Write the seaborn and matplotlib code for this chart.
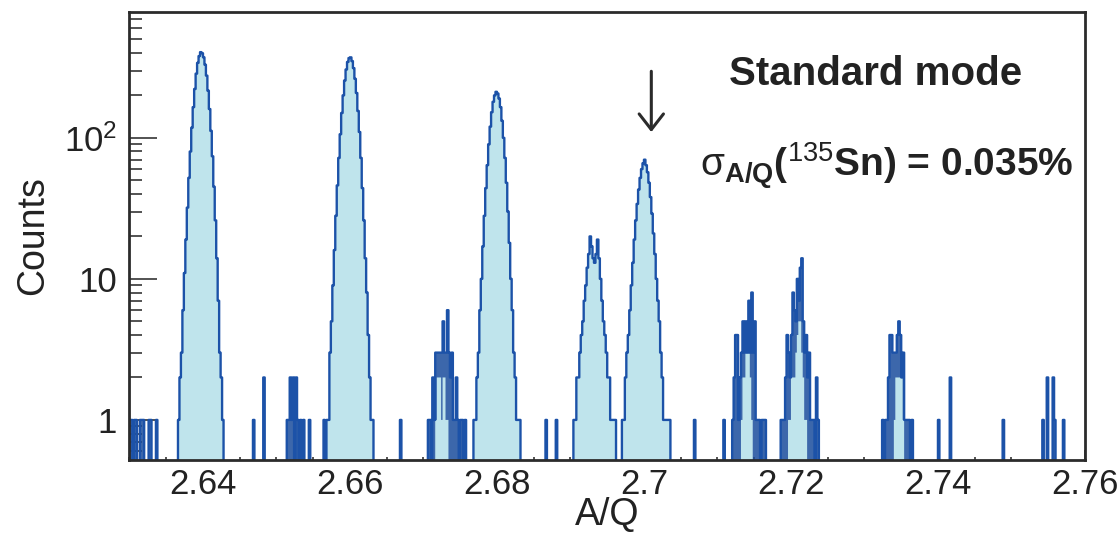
import numpy as np
import pandas as pd
import seaborn as sns
import matplotlib.pyplot as plt
from matplotlib.ticker import FixedLocator, FixedFormatter, NullFormatter

# Histogram binning (A/Q), bin width 0.0002
aq_min, aq_max, bin_w = 2.63, 2.76, 0.0002

# Main peaks: first bin lower edge + counts per bin
peak_264_start = 2.6366
peak_264_counts = [1, 2, 3, 6, 11, 19, 32, 52, 80, 118, 165, 222, 285, 340, 380, 405,
                   398, 372, 330, 276, 216, 160, 112, 74, 45, 26, 14, 7, 3, 2, 1]
peak_266_start = 2.6568
peak_266_counts = [1, 1, 3, 5, 9, 16, 28, 46, 72, 106, 150, 200, 255, 305, 345, 368,
                   372, 350, 312, 262, 208, 155, 110, 72, 44, 26, 14, 8, 4, 2, 1, 1]
peak_268_start = 2.6768
peak_268_counts = [1, 1, 2, 3, 6, 10, 17, 28, 44, 64, 90, 120, 152, 180, 200, 212,
                   206, 190, 165, 132, 100, 72, 48, 30, 18, 10, 6, 3, 2, 1, 1, 1]
peak_2693_start = 2.6904
peak_2693_counts = [1, 1, 2, 2, 3, 4, 5, 7, 9, 12, 15, 20, 17, 14, 13, 15, 19, 14, 10,
                    7, 5, 4, 3, 2, 2, 1, 1, 1, 1]
peak_270_start = 2.6970
peak_270_counts = [1, 1, 2, 3, 4, 6, 9, 13, 19, 26, 34, 43, 52, 60, 66, 70, 64, 57, 48,
                   38, 29, 21, 15, 10, 7, 5, 3, 2, 1, 1, 1, 1, 1]

# Weak clusters (outline counts)
cluster_2673_start = 2.6706
cluster_2673_counts = [1, 1, 0, 2, 1, 3, 3, 3, 3, 3, 5, 3, 3, 6, 3, 2, 3, 1, 1, 2, 1, 0, 1, 1, 0, 1]
cluster_2714_start = 2.7120
cluster_2714_counts = [1, 2, 4, 4, 1, 2, 3, 5, 3, 5, 3, 7, 3, 8, 3, 5, 1, 1, 1, 0, 1, 1, 1]
cluster_2721_start = 2.7186
cluster_2721_counts = [1, 1, 1, 2, 4, 3, 2, 4, 8, 6, 5, 10, 7, 12, 14, 5, 3, 4, 2, 3, 1, 1, 1, 0, 2, 1]
cluster_2735_start = 2.7324
cluster_2735_counts = [1, 0, 1, 1, 2, 4, 4, 3, 3, 3, 4, 5, 4, 2, 3, 1, 1, 1, 1, 0, 1]

# Filled part of the weak clusters
fill_2673_start = 2.6716
fill_2673_counts = [1, 2, 2, 2, 1, 2, 2, 1, 1]
fill_2714_start = 2.7132
fill_2714_counts = [1, 2, 2, 3, 3, 3, 2, 1]
fill_2721_start = 2.7196
fill_2721_counts = [1, 1, 2, 2, 2, 3, 4, 5, 5, 3, 2, 1, 1]
fill_2735_start = 2.7340
fill_2735_counts = [1, 2, 2, 2, 2, 2, 1]

# Isolated single bins
spike_pos = [2.6300, 2.6302, 2.6306, 2.6308, 2.6314, 2.6316, 2.6318, 2.6326, 2.6328, 2.6336,
             2.6468, 2.6482, 2.6514, 2.6516, 2.6518, 2.6520, 2.6522, 2.6526, 2.6528, 2.6532,
             2.6536, 2.6544, 2.6564, 2.6668, 2.6866, 2.6880, 2.7068, 2.7108, 2.7400, 2.7416,
             2.7488, 2.7542, 2.7548, 2.7556, 2.7558, 2.7570]
spike_counts = [1, 1, 1, 1, 1, 1, 1, 1, 1, 1,
                1, 2, 1, 1, 2, 1, 2, 2, 1, 1,
                1, 1, 1, 1, 1, 1, 1, 1, 1, 2,
                1, 1, 2, 2, 1, 1]

ytick_vals = [1, 10, 100]
ytick_labels = ["1", "10", r"$10^{2}$"]
xtick_vals = [2.64, 2.66, 2.68, 2.70, 2.72, 2.74, 2.76]
xtick_labels = ["2.64", "2.66", "2.68", "2.7", "2.72", "2.74", "2.76"]

n_bins = int(round((aq_max - aq_min) / bin_w))
edges = np.linspace(aq_min, aq_max, n_bins + 1)
centers = 0.5 * (edges[:-1] + edges[1:])


def place(arr, start, counts):
    i0 = int(round((start - aq_min) / bin_w))
    for k, c in enumerate(counts):
        arr[i0 + k] = max(arr[i0 + k], c)


fill_counts = np.zeros(n_bins)
for s, c in [(peak_264_start, peak_264_counts), (peak_266_start, peak_266_counts),
             (peak_268_start, peak_268_counts), (peak_2693_start, peak_2693_counts),
             (peak_270_start, peak_270_counts), (fill_2673_start, fill_2673_counts),
             (fill_2714_start, fill_2714_counts), (fill_2721_start, fill_2721_counts),
             (fill_2735_start, fill_2735_counts)]:
    place(fill_counts, s, c)

line_counts = fill_counts.copy()
for s, c in [(cluster_2673_start, cluster_2673_counts), (cluster_2714_start, cluster_2714_counts),
             (cluster_2721_start, cluster_2721_counts), (cluster_2735_start, cluster_2735_counts)]:
    place(line_counts, s, c)
for p, c in zip(spike_pos, spike_counts):
    place(line_counts, p, [c])

df = pd.DataFrame({"AQ": centers, "w_fill": fill_counts, "w_line": line_counts})
bin_list = list(edges)

sns.set_style("ticks")
plt.rcParams["font.family"] = ["Liberation Sans", "DejaVu Sans"]
plt.rcParams["mathtext.fontset"] = "custom"
plt.rcParams["mathtext.rm"] = "Liberation Sans"
plt.rcParams["mathtext.bf"] = "Liberation Sans:bold"
plt.rcParams["mathtext.it"] = "Liberation Sans:italic"

fig = plt.figure(figsize=(11.2, 5.33), dpi=100)
ax = fig.add_axes([0.1156, 0.137, 0.8531, 0.8405])

# dark body of the weak (gated) components, then the light-blue main fill, then outline
sns.histplot(data=df, x="AQ", weights="w_line", bins=bin_list, element="step", fill=True,
             color="#1a4c9c", alpha=0.85, linewidth=0, ax=ax)
sns.histplot(data=df, x="AQ", weights="w_fill", bins=bin_list, element="step", fill=True,
             color="#bfe4ec", alpha=1.0, linewidth=0, ax=ax)
sns.histplot(data=df, x="AQ", weights="w_line", bins=bin_list, element="step", fill=False,
             color="#1c52a8", linewidth=1.7, ax=ax)

ax.set_yscale("log")
ax.set_xlim(aq_min, aq_max)
ax.set_ylim(0.52, 780)

ax.yaxis.set_major_locator(FixedLocator(ytick_vals))
ax.yaxis.set_major_formatter(FixedFormatter(ytick_labels))
minor_y = [m * 10.0 ** e for e in (-1, 0, 1, 2) for m in range(2, 10)]
ax.yaxis.set_minor_locator(FixedLocator([v for v in minor_y if 0.52 < v < 780]))
ax.yaxis.set_minor_formatter(NullFormatter())

ax.xaxis.set_major_locator(FixedLocator(xtick_vals))
ax.xaxis.set_major_formatter(FixedFormatter(xtick_labels))
ax.xaxis.set_minor_locator(FixedLocator(np.arange(2.63, 2.7601, 0.005)))

ax.tick_params(axis="y", which="major", direction="in", length=20, width=1.3,
               color="#444444", labelsize=25, pad=9, labelcolor="#222222")
ax.tick_params(axis="y", which="minor", direction="in", length=9.5, width=1.3, color="#444444")
ax.tick_params(axis="x", which="major", direction="in", length=7, width=1.3,
               color="#444444", labelsize=25, pad=6, labelcolor="#222222")
ax.tick_params(axis="x", which="minor", direction="in", length=2.5, width=1.3, color="#444444")

for sp in ax.spines.values():
    sp.set_visible(True)
    sp.set_linewidth(2.0)
    sp.set_color("#2b2b2b")

ax.set_xlabel("A/Q", fontsize=27, color="#222222", labelpad=-3)
ax.set_ylabel("Counts", fontsize=27, color="#222222", labelpad=9)

ax.text(0.781, 0.837, "Standard mode", transform=ax.transAxes, ha="center", va="baseline",
        fontsize=29, fontweight="bold", color="#222222")
ax.text(0.792, 0.632, r"$\mathrm{\sigma}_{\mathbf{A/Q}}$($^{135}$Sn) = 0.035%",
        transform=ax.transAxes, ha="center", va="baseline", fontsize=28,
        fontweight="bold", color="#222222")

ax.annotate("", xy=(2.7010, 105), xytext=(2.7010, 310),
            arrowprops=dict(arrowstyle="->,head_length=0.45,head_width=0.35",
                            color="#2b2b2b", lw=2.2, mutation_scale=25))

fig.savefig("out.png", dpi=100)
plt.close(fig)
